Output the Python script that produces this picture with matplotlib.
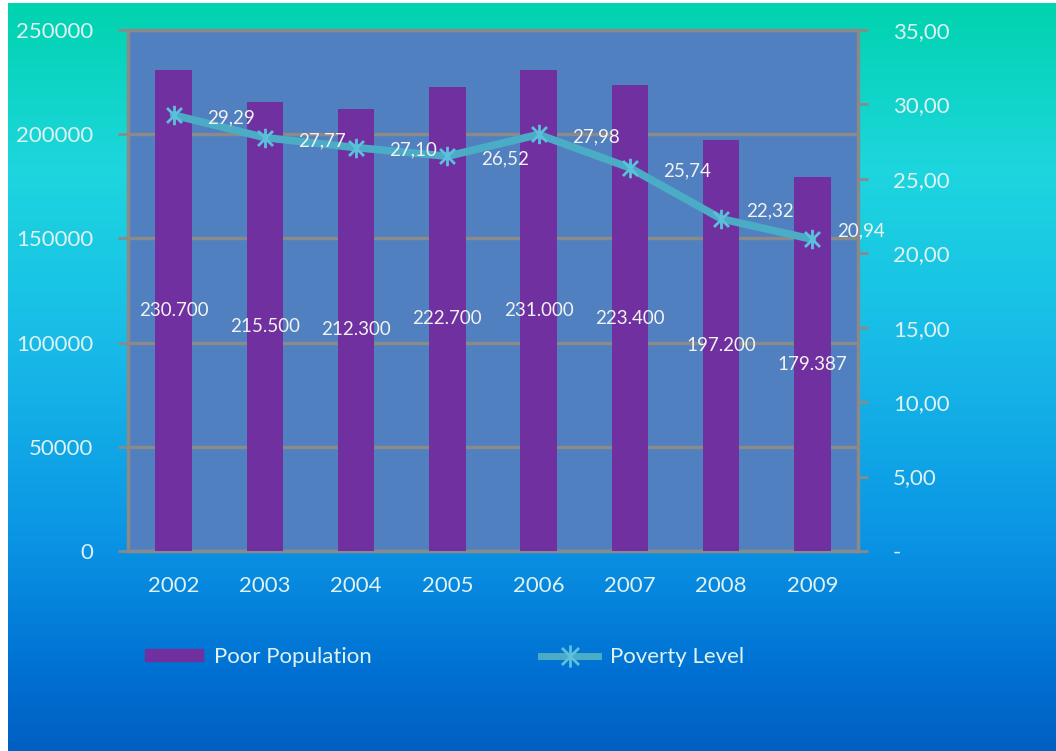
import numpy as np
import matplotlib.pyplot as plt
from matplotlib.colors import LinearSegmentedColormap
from matplotlib.lines import Line2D
from matplotlib.patches import Patch
from matplotlib.path import Path

plt.rcParams['font.family'] = ['Lato', 'DejaVu Sans']

years = ['2002', '2003', '2004', '2005', '2006', '2007', '2008', '2009']
poor_population = [230700, 215500, 212300, 222700, 231000, 223400, 197200, 179387]
poor_population_labels = ['230.700', '215.500', '212.300', '222.700',
                          '231.000', '223.400', '197.200', '179.387']
poverty_level = [29.29, 27.77, 27.10, 26.52, 27.98, 25.74, 22.32, 20.94]

BAR = '#7030a0'
LINE = '#4bacc6'
PLOT_BG = '#5080bf'
GRID = '#8a8a8a'
TXT = '#dff2f2'

fig = plt.figure(figsize=(10.56, 7.51), dpi=100, facecolor='white')

# gradient background behind everything (top row first)
bg = fig.add_axes([8 / 1056, 0, 1 - 8 / 1056, 1 - 3 / 751], zorder=-10)
grad = LinearSegmentedColormap.from_list('bg', [
    (0.0, '#00d3ae'), (0.22, '#1dd6de'), (0.45, '#18bce8'),
    (0.72, '#0a94e4'), (0.9, '#0070d2'), (1.0, '#0060c2')])
bg.imshow(np.linspace(0, 1, 256).reshape(-1, 1), aspect='auto', cmap=grad,
          extent=[0, 1, 0, 1], vmin=0, vmax=1, origin='upper')
bg.axis('off')

ax = fig.add_axes([128 / 1056, 1 - 551 / 751, 730 / 1056, 521 / 751])
ax.set_facecolor(PLOT_BG)
x = np.arange(len(years))
bars = ax.bar(x, poor_population, width=0.4, color=BAR, zorder=3)
ax.bar_label(bars, labels=poor_population_labels, label_type='center',
             color='#f2f2f2', fontsize=13.5)

ax.set_xlim(-0.5, len(years) - 0.5)
ax.set_ylim(0, 250000)
ax.set_yticks(np.arange(0, 250001, 50000))
ax.set_xticks(x, years)
ax.yaxis.grid(True, color=GRID, linewidth=2.5, zorder=1)
ax.set_axisbelow(True)
for s in ax.spines.values():
    s.set_color(GRID)
    s.set_linewidth(2.5)
ax.tick_params(axis='y', colors=GRID, labelcolor=TXT, labelsize=16,
               length=7, width=2, pad=18)
ax.tick_params(axis='x', length=0, labelcolor=TXT, labelsize=16, pad=18)

ax2 = ax.twinx()
ax2.set_ylim(0, 35)
ax2.set_yticks(np.arange(0, 36, 5))
ax2.set_yticklabels(['-' if v == 0 else f'{v:.2f}'.replace('.', ',')
                     for v in np.arange(0, 36, 5)])
ax2.tick_params(axis='y', colors=GRID, labelcolor=TXT, labelsize=16,
                length=7, width=2, pad=18)
for s in ax2.spines.values():
    s.set_visible(False)

# asterisk marker like the spreadsheet star
star = Path([(-1, -1), (1, 1), (-1, 1), (1, -1), (0, -1.3), (0, 1.3)],
            [Path.MOVETO, Path.LINETO] * 3)
ax2.plot(x, poverty_level, color=LINE, linewidth=5.5, marker=star,
         markersize=14, markeredgewidth=2, markeredgecolor='#5cc0dc',
         solid_capstyle='round', zorder=5)
for i, v in enumerate(poverty_level):
    off = (18, 6) if i >= 6 else (24, -2)
    ax2.annotate(f'{v:.2f}'.replace('.', ','), (x[i], v), xytext=off,
                 textcoords='offset points', ha='left', va='center',
                 color='#f2f2f2', fontsize=13.5, zorder=7)

handles = [Patch(color=BAR),
           Line2D([], [], color=LINE, linewidth=5, marker=star,
                  markersize=16, markeredgewidth=2, markeredgecolor='#5cc0dc')]
fig.legend(handles, ['Poor Population', 'Poverty Level'], ncol=2,
           loc='center left', bbox_to_anchor=(134 / 1056, 1 - 657 / 751),
           frameon=False, fontsize=16, labelcolor=TXT, borderpad=0,
           handlelength=2.6, handleheight=0.5, handletextpad=0.5,
           columnspacing=7.6)

fig.savefig('out.png', dpi=100, facecolor=fig.get_facecolor())
